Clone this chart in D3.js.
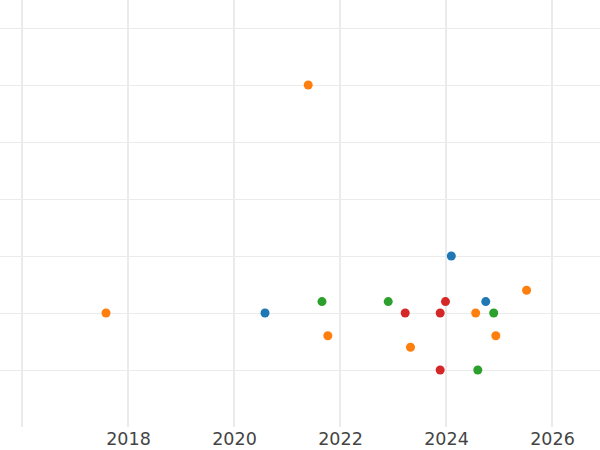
<!DOCTYPE html>
<meta charset="utf-8">
<style>
  body { margin: 0; background: #fff; }
  svg { display: block; }
</style>
<svg width="600" height="450"></svg>
<script src="https://cdn.jsdelivr.net/npm/d3@7"></script>
<script>

var seriesNames = ["A", "B", "C", "D"],
    colors = ["#1f77b4", "#ff7f0e", "#2ca02c", "#d62728"];

var yearA = [2020.585, 2024.10, 2024.75],
    valA  = [2, 3, 2.2];
var yearB = [2017.585, 2021.40, 2021.77, 2023.33, 2024.56, 2024.94, 2025.52],
    valB  = [2, 6, 1.6, 1.4, 2, 1.6, 2.4];
var yearC = [2021.66, 2022.91, 2024.60, 2024.90],
    valC  = [2.2, 2.2, 1, 2];
var yearD = [2023.23, 2023.89, 2023.89, 2023.99],
    valD  = [2, 2, 1, 2.2];

var xTicks = [2016, 2018, 2020, 2022, 2024, 2026],
    xLabels = [2018, 2020, 2022, 2024, 2026],
    yTicks = [1, 2, 3, 4, 5, 6, 7];

var svg = d3.select("svg"),
    plotBottom = 427;

var x = d3.scaleLinear().domain([2016, 2026]).range([22, 552]),
    y = d3.scaleLinear().domain([0, 7]).range([plotBottom, 28]),
    z = d3.scaleOrdinal().domain(seriesNames).range(colors);

var data = [];
[[yearA, valA], [yearB, valB], [yearC, valC], [yearD, valD]].forEach(function (s, i) {
  s[0].forEach(function (yr, j) {
    data.push({series: seriesNames[i], year: yr, value: s[1][j]});
  });
});

// horizontal grid
svg.append("g")
  .selectAll("line")
  .data(yTicks)
  .enter().append("line")
    .attr("x1", 0)
    .attr("x2", 600)
    .attr("y1", function (d) { return Math.round(y(d)) + 0.5; })
    .attr("y2", function (d) { return Math.round(y(d)) + 0.5; })
    .style("stroke", "#ebebeb")
    .style("stroke-width", 1);

// vertical grid
svg.append("g")
  .selectAll("line")
  .data(xTicks)
  .enter().append("line")
    .attr("x1", function (d) { return x(d); })
    .attr("x2", function (d) { return x(d); })
    .attr("y1", 0)
    .attr("y2", plotBottom)
    .style("stroke", "#ebebeb")
    .style("stroke-width", 2);

// x axis labels
var xAxis = svg.append("g")
    .attr("transform", "translate(0," + plotBottom + ")")
    .call(d3.axisBottom(x).tickValues(xLabels).tickFormat(d3.format("d")).tickSize(0).tickPadding(6));
xAxis.select(".domain").remove();
xAxis.selectAll("text")
    .style("font-family", "DejaVu Sans, sans-serif")
    .style("font-size", "17.5px")
    .style("fill", "#444");

// points
svg.append("g")
  .selectAll("circle")
  .data(data)
  .enter().append("circle")
    .attr("cx", function (d) { return x(d.year); })
    .attr("cy", function (d) { return y(d.value); })
    .attr("r", 4.5)
    .style("fill", function (d) { return z(d.series); });

</script>
